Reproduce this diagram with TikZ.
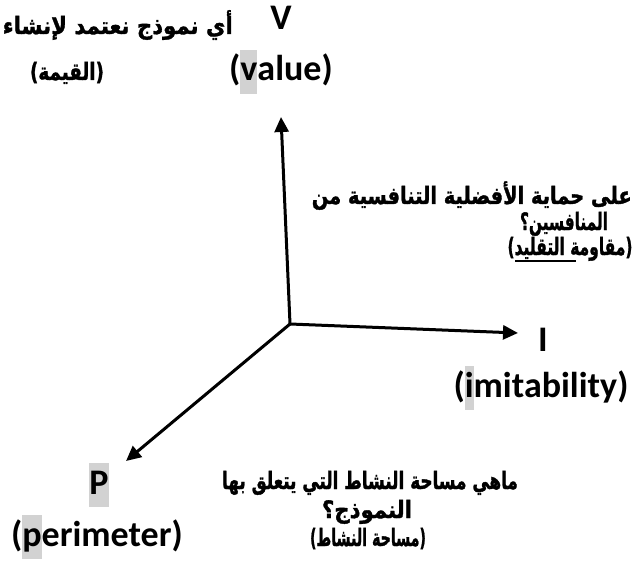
\documentclass[tikz,border=0pt]{standalone}
\usepackage{fontspec}
\usetikzlibrary{arrows.meta}
\setmainfont{Carlito}
\TeXXeTstate=1
\newfontfamily\arabicfont[Script=Arabic,FakeBold=1.5]{DejaVu Sans Bold}
\definecolor{hlgray}{RGB}{210,210,210}
\newcommand{\hlbox}[1]{{\setlength{\fboxsep}{0pt}\colorbox{hlgray}{\strut #1}}}
\newcommand{\arfit}[2]{\resizebox{#1pt}{1.2\height}{#2}}
\begin{document}
\begin{tikzpicture}[x=1pt,y=-1pt,
  axis/.style={line width=3pt,-{Triangle[length=15pt,width=14pt]}},
  lat/.style={font=\fontsize{36}{44}\selectfont\bfseries, inner sep=0pt, anchor=base},
  ar/.style={font=\fontsize{20}{24}\selectfont\arabicfont, inner sep=0pt, anchor=base}]
\useasboundingbox (0,0) rectangle (634,577);
\coordinate (O) at (290,324);
\coordinate (Vt) at (281,117);
\coordinate (It) at (518,333);
\coordinate (Pt) at (126,461);
\draw[axis] (O) -- (Vt);
\draw[axis] (O) -- (It);
\draw[axis] (O) -- (Pt);
% Latin labels
\node[lat] (V) at (281,30) {V};
\node[lat] (value) at (281,81) {(\hlbox{v}alue)};
\node[lat] (I) at (543,351) {I};
\node[lat] (imit) at (541,397) {(\hlbox{i}mitability)};
\node[lat] (P) at (99,494) {\hlbox{P}};
\node[lat] (perim) at (97,546) {(\hlbox{p}erimeter)};
% Arabic texts
\node[ar, anchor=base east] (tl1) at (233,34) {\arfit{230}{\beginR أي نموذج نعتمد لإنشاء\endR}};
\node[ar] (tl2) at (67,80) {\arfit{74}{\beginR (القيمة)\endR}};
\node[ar, anchor=base east] (r1) at (632,204) {\arfit{320}{\beginR على حماية الأفضلية التنافسية من\endR}};
\node[ar] (r2) at (564,230) {\arfit{88}{\beginR المنافسين؟\endR}};
\node[ar] (r3) at (570,255) {\arfit{125}{\beginR (مقاومة التقليد)\endR}};
\draw[line width=1.2pt] (515,261) -- (576,261);
\node[ar] (b1) at (370,489) {\arfit{296}{\beginR ماهي مساحة النشاط التي يتعلق بها\endR}};
\node[ar] (b2) at (367,518) {\arfit{90}{\beginR النموذج؟\endR}};
\node[ar] (b3) at (368,546) {\arfit{116}{\beginR (مساحة النشاط)\endR}};
\end{tikzpicture}
\end{document}
